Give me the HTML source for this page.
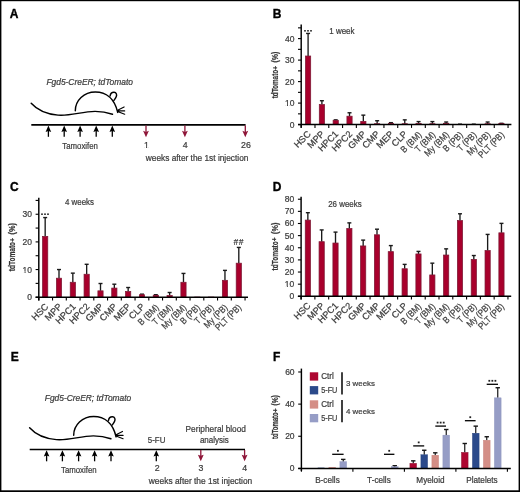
<!DOCTYPE html><html><head><meta charset="utf-8"><style>html,body{margin:0;padding:0;background:#fff;}svg{display:block;will-change:transform;font-family:"Liberation Sans",sans-serif;}text{stroke:#3c3c3c;stroke-width:0.22px;}</style></head><body>
<svg width="520" height="492" viewBox="0 0 520 492" fill="#3c3c3c">
<rect x="0" y="0" width="520" height="492" fill="#fff"/>
<text x="9.85" y="18.20" font-size="12" font-weight="bold" fill="#000" style="stroke:#000;stroke-width:0.35px">A</text>
<text x="46.40" y="84.60" font-size="8.3" font-style="italic" textLength="86.60" lengthAdjust="spacingAndGlyphs" >Fgd5-CreER; tdTomato</text>
<g transform="translate(0.00 0.00)" fill="none" stroke="#000" stroke-width="1.45" stroke-linecap="round">
<path d="M31.2,103.2 C37,109.7 46,114 58,115.1 C70,116.2 82,111.5 95,111.4 C104,111.4 109,113 112.5,114.2"/>
<path d="M75.3,110.8 C75.3,100.5 84,92.0 95.3,92.0 C106.2,92.0 114.6,98.8 117.7,112.4"/>
<path d="M110.1,95.9 C110.5,93.6 112.2,92.2 114.1,92.3 C116.3,92.4 117.1,94.6 116.3,96.6 C115.7,98.2 114.6,99.5 113.9,100.4"/>
<path d="M117.6,110.2 L124.1,106.9 M117.6,110.8 L124.7,110.9 M117.6,111.4 L124.7,114.3" stroke-width="1.1"/>
</g>
<line x1="31.30" y1="124.80" x2="245.60" y2="124.80" stroke="#000" stroke-width="1.7"/>
<line x1="48.40" y1="129.60" x2="48.40" y2="136.80" stroke="#000" stroke-width="1.3"/>
<polygon points="48.40,125.60 45.60,132.00 48.40,131.00 51.20,132.00" fill="#000"/>
<line x1="64.20" y1="129.60" x2="64.20" y2="136.80" stroke="#000" stroke-width="1.3"/>
<polygon points="64.20,125.60 61.40,132.00 64.20,131.00 67.00,132.00" fill="#000"/>
<line x1="80.10" y1="129.60" x2="80.10" y2="136.80" stroke="#000" stroke-width="1.3"/>
<polygon points="80.10,125.60 77.30,132.00 80.10,131.00 82.90,132.00" fill="#000"/>
<line x1="96.20" y1="129.60" x2="96.20" y2="136.80" stroke="#000" stroke-width="1.3"/>
<polygon points="96.20,125.60 93.40,132.00 96.20,131.00 99.00,132.00" fill="#000"/>
<line x1="112.30" y1="129.60" x2="112.30" y2="136.80" stroke="#000" stroke-width="1.3"/>
<polygon points="112.30,125.60 109.50,132.00 112.30,131.00 115.10,132.00" fill="#000"/>
<line x1="146.00" y1="125.50" x2="146.00" y2="133.30" stroke="#8e1538" stroke-width="1.3"/>
<polygon points="146.00,137.30 143.10,130.80 146.00,131.90 148.90,130.80" fill="#8e1538"/>
<line x1="184.90" y1="125.50" x2="184.90" y2="133.30" stroke="#8e1538" stroke-width="1.3"/>
<polygon points="184.90,137.30 182.00,130.80 184.90,131.90 187.80,130.80" fill="#8e1538"/>
<line x1="245.30" y1="125.50" x2="245.30" y2="133.30" stroke="#8e1538" stroke-width="1.3"/>
<polygon points="245.30,137.30 242.40,130.80 245.30,131.90 248.20,130.80" fill="#8e1538"/>
<text x="62.30" y="148.70" font-size="8.7" textLength="35.60" lengthAdjust="spacingAndGlyphs" >Tamoxifen</text>
<text x="146.40" y="147.70" font-size="8.8" text-anchor="middle" >1</text>
<rect x="144.22" y="146.44" width="1.82" height="1.66" fill="#fff"/>
<rect x="147.11" y="146.44" width="1.67" height="1.66" fill="#fff"/>
<text x="185.10" y="147.70" font-size="8.8" text-anchor="middle" >4</text>
<text x="245.90" y="147.70" font-size="8.8" text-anchor="middle" >26</text>
<text x="145.80" y="160.90" font-size="8.3" textLength="102.60" lengthAdjust="spacingAndGlyphs" >weeks after the 1st injection</text>
<text x="272.85" y="18.30" font-size="12" font-weight="bold" fill="#000" style="stroke:#000;stroke-width:0.35px">B</text>
<line x1="301.20" y1="24.50" x2="301.20" y2="127.70" stroke="#000" stroke-width="1.45"/>
<line x1="298.00" y1="124.60" x2="301.20" y2="124.60" stroke="#000" stroke-width="1.1"/>
<text x="294.40" y="127.60" font-size="8.5" text-anchor="end" >0</text>
<line x1="298.00" y1="103.10" x2="301.20" y2="103.10" stroke="#000" stroke-width="1.1"/>
<text x="294.40" y="106.10" font-size="8.5" text-anchor="end" >10</text>
<rect x="285.20" y="104.86" width="1.76" height="1.64" fill="#fff"/>
<rect x="288.00" y="104.86" width="1.61" height="1.64" fill="#fff"/>
<line x1="298.00" y1="81.60" x2="301.20" y2="81.60" stroke="#000" stroke-width="1.1"/>
<text x="294.40" y="84.60" font-size="8.5" text-anchor="end" >20</text>
<line x1="298.00" y1="60.10" x2="301.20" y2="60.10" stroke="#000" stroke-width="1.1"/>
<text x="294.40" y="63.10" font-size="8.5" text-anchor="end" >30</text>
<line x1="298.00" y1="38.60" x2="301.20" y2="38.60" stroke="#000" stroke-width="1.1"/>
<text x="294.40" y="41.60" font-size="8.5" text-anchor="end" >40</text>
<line x1="298.00" y1="113.85" x2="301.20" y2="113.85" stroke="#000" stroke-width="1.1"/>
<line x1="298.00" y1="92.35" x2="301.20" y2="92.35" stroke="#000" stroke-width="1.1"/>
<line x1="298.00" y1="70.85" x2="301.20" y2="70.85" stroke="#000" stroke-width="1.1"/>
<line x1="298.00" y1="49.35" x2="301.20" y2="49.35" stroke="#000" stroke-width="1.1"/>
<line x1="298.00" y1="27.85" x2="301.20" y2="27.85" stroke="#000" stroke-width="1.1"/>
<g transform="translate(278.00 98.35) rotate(-90)" fill="#333" font-weight="bold">
<text x="0" y="0" font-size="9.2" textLength="28.52" lengthAdjust="spacingAndGlyphs">tdTomato</text>
<text x="28.57" y="-0.4" font-size="6.62">+</text>
<text x="35.74" y="0" font-size="9.2" textLength="11.02" lengthAdjust="spacingAndGlyphs">(%)</text>
</g>
<line x1="308.09" y1="33.44" x2="308.09" y2="56.02" stroke="#1a1a1a" stroke-width="1.35"/>
<line x1="306.09" y1="33.44" x2="310.09" y2="33.44" stroke="#1a1a1a" stroke-width="1.4"/>
<rect x="305.49" y="56.02" width="5.20" height="68.58" fill="#a8002c" stroke="#7c1834" stroke-width="0.75"/>
<line x1="321.90" y1="100.73" x2="321.90" y2="104.60" stroke="#1a1a1a" stroke-width="1.35"/>
<line x1="319.90" y1="100.73" x2="323.90" y2="100.73" stroke="#1a1a1a" stroke-width="1.4"/>
<rect x="319.30" y="104.60" width="5.20" height="20.00" fill="#a8002c" stroke="#7c1834" stroke-width="0.75"/>
<line x1="335.71" y1="119.87" x2="335.71" y2="120.30" stroke="#1a1a1a" stroke-width="1.35"/>
<line x1="333.71" y1="119.87" x2="337.71" y2="119.87" stroke="#1a1a1a" stroke-width="1.4"/>
<rect x="333.11" y="120.30" width="5.20" height="4.30" fill="#a8002c" stroke="#7c1834" stroke-width="0.75"/>
<line x1="349.52" y1="112.77" x2="349.52" y2="116.21" stroke="#1a1a1a" stroke-width="1.35"/>
<line x1="347.52" y1="112.77" x2="351.52" y2="112.77" stroke="#1a1a1a" stroke-width="1.4"/>
<rect x="346.92" y="116.21" width="5.20" height="8.39" fill="#a8002c" stroke="#7c1834" stroke-width="0.75"/>
<line x1="363.33" y1="115.14" x2="363.33" y2="121.38" stroke="#1a1a1a" stroke-width="1.35"/>
<line x1="361.33" y1="115.14" x2="365.33" y2="115.14" stroke="#1a1a1a" stroke-width="1.4"/>
<rect x="360.73" y="121.38" width="5.20" height="3.22" fill="#a8002c" stroke="#7c1834" stroke-width="0.75"/>
<line x1="377.14" y1="120.73" x2="377.14" y2="123.74" stroke="#1a1a1a" stroke-width="1.35"/>
<line x1="375.14" y1="120.73" x2="379.14" y2="120.73" stroke="#1a1a1a" stroke-width="1.4"/>
<rect x="374.54" y="123.74" width="5.20" height="0.86" fill="#a8002c" stroke="#7c1834" stroke-width="0.75"/>
<line x1="390.95" y1="122.66" x2="390.95" y2="123.31" stroke="#1a1a1a" stroke-width="1.35"/>
<line x1="388.95" y1="122.66" x2="392.95" y2="122.66" stroke="#1a1a1a" stroke-width="1.4"/>
<rect x="388.35" y="123.31" width="5.20" height="1.29" fill="#a8002c" stroke="#7c1834" stroke-width="0.75"/>
<line x1="404.76" y1="119.87" x2="404.76" y2="123.74" stroke="#1a1a1a" stroke-width="1.35"/>
<line x1="402.76" y1="119.87" x2="406.76" y2="119.87" stroke="#1a1a1a" stroke-width="1.4"/>
<rect x="402.16" y="123.74" width="5.20" height="0.86" fill="#a8002c" stroke="#7c1834" stroke-width="0.75"/>
<line x1="418.57" y1="121.59" x2="418.57" y2="123.52" stroke="#1a1a1a" stroke-width="1.35"/>
<line x1="416.57" y1="121.59" x2="420.57" y2="121.59" stroke="#1a1a1a" stroke-width="1.4"/>
<rect x="415.97" y="123.52" width="5.20" height="1.08" fill="#a8002c" stroke="#7c1834" stroke-width="0.75"/>
<line x1="432.38" y1="121.59" x2="432.38" y2="123.74" stroke="#1a1a1a" stroke-width="1.35"/>
<line x1="430.38" y1="121.59" x2="434.38" y2="121.59" stroke="#1a1a1a" stroke-width="1.4"/>
<rect x="429.78" y="123.74" width="5.20" height="0.86" fill="#a8002c" stroke="#7c1834" stroke-width="0.75"/>
<line x1="446.19" y1="122.02" x2="446.19" y2="123.31" stroke="#1a1a1a" stroke-width="1.35"/>
<line x1="444.19" y1="122.02" x2="448.19" y2="122.02" stroke="#1a1a1a" stroke-width="1.4"/>
<rect x="443.59" y="123.31" width="5.20" height="1.29" fill="#a8002c" stroke="#7c1834" stroke-width="0.75"/>
<line x1="460.00" y1="124.17" x2="460.00" y2="124.38" stroke="#1a1a1a" stroke-width="1.35"/>
<line x1="458.00" y1="124.17" x2="462.00" y2="124.17" stroke="#1a1a1a" stroke-width="1.4"/>
<rect x="457.40" y="124.38" width="5.20" height="0.22" fill="#a8002c" stroke="#7c1834" stroke-width="0.75"/>
<line x1="473.81" y1="124.17" x2="473.81" y2="124.38" stroke="#1a1a1a" stroke-width="1.35"/>
<line x1="471.81" y1="124.17" x2="475.81" y2="124.17" stroke="#1a1a1a" stroke-width="1.4"/>
<rect x="471.21" y="124.38" width="5.20" height="0.22" fill="#a8002c" stroke="#7c1834" stroke-width="0.75"/>
<line x1="487.62" y1="122.02" x2="487.62" y2="123.74" stroke="#1a1a1a" stroke-width="1.35"/>
<line x1="485.62" y1="122.02" x2="489.62" y2="122.02" stroke="#1a1a1a" stroke-width="1.4"/>
<rect x="485.02" y="123.74" width="5.20" height="0.86" fill="#a8002c" stroke="#7c1834" stroke-width="0.75"/>
<line x1="501.43" y1="123.31" x2="501.43" y2="123.52" stroke="#1a1a1a" stroke-width="1.35"/>
<line x1="499.43" y1="123.31" x2="503.43" y2="123.31" stroke="#1a1a1a" stroke-width="1.4"/>
<rect x="498.83" y="123.52" width="5.20" height="1.08" fill="#a8002c" stroke="#7c1834" stroke-width="0.75"/>
<line x1="298.00" y1="124.60" x2="511.40" y2="124.60" stroke="#000" stroke-width="1.5"/>
<line x1="301.20" y1="124.60" x2="301.20" y2="127.90" stroke="#000" stroke-width="1.1"/>
<line x1="314.99" y1="124.60" x2="314.99" y2="127.90" stroke="#000" stroke-width="1.1"/>
<line x1="328.78" y1="124.60" x2="328.78" y2="127.90" stroke="#000" stroke-width="1.1"/>
<line x1="342.57" y1="124.60" x2="342.57" y2="127.90" stroke="#000" stroke-width="1.1"/>
<line x1="356.36" y1="124.60" x2="356.36" y2="127.90" stroke="#000" stroke-width="1.1"/>
<line x1="370.15" y1="124.60" x2="370.15" y2="127.90" stroke="#000" stroke-width="1.1"/>
<line x1="383.94" y1="124.60" x2="383.94" y2="127.90" stroke="#000" stroke-width="1.1"/>
<line x1="397.73" y1="124.60" x2="397.73" y2="127.90" stroke="#000" stroke-width="1.1"/>
<line x1="411.52" y1="124.60" x2="411.52" y2="127.90" stroke="#000" stroke-width="1.1"/>
<line x1="425.31" y1="124.60" x2="425.31" y2="127.90" stroke="#000" stroke-width="1.1"/>
<line x1="439.10" y1="124.60" x2="439.10" y2="127.90" stroke="#000" stroke-width="1.1"/>
<line x1="452.89" y1="124.60" x2="452.89" y2="127.90" stroke="#000" stroke-width="1.1"/>
<line x1="466.68" y1="124.60" x2="466.68" y2="127.90" stroke="#000" stroke-width="1.1"/>
<line x1="480.47" y1="124.60" x2="480.47" y2="127.90" stroke="#000" stroke-width="1.1"/>
<line x1="494.26" y1="124.60" x2="494.26" y2="127.90" stroke="#000" stroke-width="1.1"/>
<line x1="508.05" y1="124.60" x2="508.05" y2="127.90" stroke="#000" stroke-width="1.1"/>
<text x="311.39" y="134.60" font-size="9.2" text-anchor="end" transform="rotate(-45 311.39 134.60)" >HSC</text>
<text x="325.19" y="134.60" font-size="9.2" text-anchor="end" transform="rotate(-45 325.19 134.60)" >MPP</text>
<text x="338.97" y="134.60" font-size="9.2" text-anchor="end" transform="rotate(-45 338.97 134.60)" >HPC1</text>
<text x="352.76" y="134.60" font-size="9.2" text-anchor="end" transform="rotate(-45 352.76 134.60)" >HPC2</text>
<text x="366.56" y="134.60" font-size="9.2" text-anchor="end" transform="rotate(-45 366.56 134.60)" >GMP</text>
<text x="380.34" y="134.60" font-size="9.2" text-anchor="end" transform="rotate(-45 380.34 134.60)" >CMP</text>
<text x="394.13" y="134.60" font-size="9.2" text-anchor="end" transform="rotate(-45 394.13 134.60)" >MEP</text>
<text x="407.93" y="134.60" font-size="9.2" text-anchor="end" transform="rotate(-45 407.93 134.60)" >CLP</text>
<text x="422.11" y="135.40" font-size="9.2" text-anchor="end" textLength="25.18" lengthAdjust="spacingAndGlyphs" transform="rotate(-45 422.11 135.40)" >B (BM)</text>
<text x="435.90" y="135.40" font-size="9.2" text-anchor="end" textLength="24.58" lengthAdjust="spacingAndGlyphs" transform="rotate(-45 435.90 135.40)" >T (BM)</text>
<text x="449.69" y="135.40" font-size="9.2" text-anchor="end" textLength="30.58" lengthAdjust="spacingAndGlyphs" transform="rotate(-45 449.69 135.40)" >My (BM)</text>
<text x="463.48" y="135.40" font-size="9.2" text-anchor="end" textLength="23.84" lengthAdjust="spacingAndGlyphs" transform="rotate(-45 463.48 135.40)" >B (PB)</text>
<text x="477.27" y="135.40" font-size="9.2" text-anchor="end" textLength="23.24" lengthAdjust="spacingAndGlyphs" transform="rotate(-45 477.27 135.40)" >T (PB)</text>
<text x="491.06" y="135.40" font-size="9.2" text-anchor="end" textLength="29.23" lengthAdjust="spacingAndGlyphs" transform="rotate(-45 491.06 135.40)" >My (PB)</text>
<text x="504.85" y="135.40" font-size="9.2" text-anchor="end" textLength="32.54" lengthAdjust="spacingAndGlyphs" transform="rotate(-45 504.85 135.40)" >PLT (PB)</text>
<rect x="304.20" y="30.00" width="1.60" height="1.60" fill="#222"/>
<rect x="307.20" y="30.00" width="1.60" height="1.60" fill="#222"/>
<rect x="310.20" y="30.00" width="1.60" height="1.60" fill="#222"/>
<text x="329.30" y="33.50" font-size="8.3" textLength="25.20" lengthAdjust="spacingAndGlyphs" >1 week</text>
<text x="10.05" y="190.60" font-size="12" font-weight="bold" fill="#000" style="stroke:#000;stroke-width:0.35px">C</text>
<line x1="38.80" y1="197.70" x2="38.80" y2="300.50" stroke="#000" stroke-width="1.45"/>
<line x1="35.60" y1="297.20" x2="38.80" y2="297.20" stroke="#000" stroke-width="1.1"/>
<text x="32.00" y="300.20" font-size="8.5" text-anchor="end" >0</text>
<line x1="35.60" y1="269.55" x2="38.80" y2="269.55" stroke="#000" stroke-width="1.1"/>
<text x="32.00" y="272.55" font-size="8.5" text-anchor="end" >10</text>
<rect x="22.80" y="271.31" width="1.76" height="1.64" fill="#fff"/>
<rect x="25.60" y="271.31" width="1.61" height="1.64" fill="#fff"/>
<line x1="35.60" y1="241.90" x2="38.80" y2="241.90" stroke="#000" stroke-width="1.1"/>
<text x="32.00" y="244.90" font-size="8.5" text-anchor="end" >20</text>
<line x1="35.60" y1="214.25" x2="38.80" y2="214.25" stroke="#000" stroke-width="1.1"/>
<text x="32.00" y="217.25" font-size="8.5" text-anchor="end" >30</text>
<line x1="35.60" y1="283.38" x2="38.80" y2="283.38" stroke="#000" stroke-width="1.1"/>
<line x1="35.60" y1="255.72" x2="38.80" y2="255.72" stroke="#000" stroke-width="1.1"/>
<line x1="35.60" y1="228.07" x2="38.80" y2="228.07" stroke="#000" stroke-width="1.1"/>
<line x1="35.60" y1="200.42" x2="38.80" y2="200.42" stroke="#000" stroke-width="1.1"/>
<g transform="translate(15.30 271.25) rotate(-90)" fill="#333" font-weight="bold">
<text x="0" y="0" font-size="9.2" textLength="29.38" lengthAdjust="spacingAndGlyphs">tdTomato</text>
<text x="29.43" y="-0.4" font-size="6.62">+</text>
<text x="36.82" y="0" font-size="9.2" textLength="11.35" lengthAdjust="spacingAndGlyphs">(%)</text>
</g>
<line x1="45.17" y1="217.57" x2="45.17" y2="236.37" stroke="#1a1a1a" stroke-width="1.35"/>
<line x1="43.17" y1="217.57" x2="47.17" y2="217.57" stroke="#1a1a1a" stroke-width="1.4"/>
<rect x="42.57" y="236.37" width="5.20" height="60.83" fill="#a8002c" stroke="#7c1834" stroke-width="0.75"/>
<line x1="59.00" y1="269.55" x2="59.00" y2="278.20" stroke="#1a1a1a" stroke-width="1.35"/>
<line x1="57.00" y1="269.55" x2="61.00" y2="269.55" stroke="#1a1a1a" stroke-width="1.4"/>
<rect x="56.40" y="278.20" width="5.20" height="19.00" fill="#a8002c" stroke="#7c1834" stroke-width="0.75"/>
<line x1="72.83" y1="273.14" x2="72.83" y2="282.27" stroke="#1a1a1a" stroke-width="1.35"/>
<line x1="70.83" y1="273.14" x2="74.83" y2="273.14" stroke="#1a1a1a" stroke-width="1.4"/>
<rect x="70.23" y="282.27" width="5.20" height="14.93" fill="#a8002c" stroke="#7c1834" stroke-width="0.75"/>
<line x1="86.66" y1="264.30" x2="86.66" y2="274.25" stroke="#1a1a1a" stroke-width="1.35"/>
<line x1="84.66" y1="264.30" x2="88.66" y2="264.30" stroke="#1a1a1a" stroke-width="1.4"/>
<rect x="84.06" y="274.25" width="5.20" height="22.95" fill="#a8002c" stroke="#7c1834" stroke-width="0.75"/>
<line x1="100.50" y1="283.51" x2="100.50" y2="290.84" stroke="#1a1a1a" stroke-width="1.35"/>
<line x1="98.50" y1="283.51" x2="102.50" y2="283.51" stroke="#1a1a1a" stroke-width="1.4"/>
<rect x="97.90" y="290.84" width="5.20" height="6.36" fill="#a8002c" stroke="#7c1834" stroke-width="0.75"/>
<line x1="114.33" y1="284.20" x2="114.33" y2="288.08" stroke="#1a1a1a" stroke-width="1.35"/>
<line x1="112.33" y1="284.20" x2="116.33" y2="284.20" stroke="#1a1a1a" stroke-width="1.4"/>
<rect x="111.73" y="288.08" width="5.20" height="9.12" fill="#a8002c" stroke="#7c1834" stroke-width="0.75"/>
<line x1="128.16" y1="287.52" x2="128.16" y2="291.50" stroke="#1a1a1a" stroke-width="1.35"/>
<line x1="126.16" y1="287.52" x2="130.16" y2="287.52" stroke="#1a1a1a" stroke-width="1.4"/>
<rect x="125.56" y="291.50" width="5.20" height="5.70" fill="#a8002c" stroke="#7c1834" stroke-width="0.75"/>
<line x1="141.99" y1="294.16" x2="141.99" y2="294.71" stroke="#1a1a1a" stroke-width="1.35"/>
<line x1="139.99" y1="294.16" x2="143.99" y2="294.16" stroke="#1a1a1a" stroke-width="1.4"/>
<rect x="139.39" y="294.71" width="5.20" height="2.49" fill="#a8002c" stroke="#7c1834" stroke-width="0.75"/>
<line x1="155.81" y1="294.71" x2="155.81" y2="295.26" stroke="#1a1a1a" stroke-width="1.35"/>
<line x1="153.81" y1="294.71" x2="157.81" y2="294.71" stroke="#1a1a1a" stroke-width="1.4"/>
<rect x="153.22" y="295.26" width="5.20" height="1.94" fill="#a8002c" stroke="#7c1834" stroke-width="0.75"/>
<line x1="169.64" y1="292.50" x2="169.64" y2="295.54" stroke="#1a1a1a" stroke-width="1.35"/>
<line x1="167.64" y1="292.50" x2="171.64" y2="292.50" stroke="#1a1a1a" stroke-width="1.4"/>
<rect x="167.04" y="295.54" width="5.20" height="1.66" fill="#a8002c" stroke="#7c1834" stroke-width="0.75"/>
<line x1="183.48" y1="273.42" x2="183.48" y2="282.27" stroke="#1a1a1a" stroke-width="1.35"/>
<line x1="181.48" y1="273.42" x2="185.48" y2="273.42" stroke="#1a1a1a" stroke-width="1.4"/>
<rect x="180.88" y="282.27" width="5.20" height="14.93" fill="#a8002c" stroke="#7c1834" stroke-width="0.75"/>
<rect x="194.71" y="297.06" width="5.20" height="0.14" fill="#a8002c" stroke="#7c1834" stroke-width="0.75"/>
<rect x="208.53" y="297.06" width="5.20" height="0.14" fill="#a8002c" stroke="#7c1834" stroke-width="0.75"/>
<line x1="224.96" y1="270.38" x2="224.96" y2="280.33" stroke="#1a1a1a" stroke-width="1.35"/>
<line x1="222.96" y1="270.38" x2="226.96" y2="270.38" stroke="#1a1a1a" stroke-width="1.4"/>
<rect x="222.36" y="280.33" width="5.20" height="16.87" fill="#a8002c" stroke="#7c1834" stroke-width="0.75"/>
<line x1="238.80" y1="247.43" x2="238.80" y2="263.19" stroke="#1a1a1a" stroke-width="1.35"/>
<line x1="236.80" y1="247.43" x2="240.80" y2="247.43" stroke="#1a1a1a" stroke-width="1.4"/>
<rect x="236.20" y="263.19" width="5.20" height="34.01" fill="#a8002c" stroke="#7c1834" stroke-width="0.75"/>
<line x1="35.60" y1="297.20" x2="248.00" y2="297.20" stroke="#000" stroke-width="1.5"/>
<line x1="38.80" y1="297.20" x2="38.80" y2="300.50" stroke="#000" stroke-width="1.1"/>
<line x1="52.55" y1="297.20" x2="52.55" y2="300.50" stroke="#000" stroke-width="1.1"/>
<line x1="66.30" y1="297.20" x2="66.30" y2="300.50" stroke="#000" stroke-width="1.1"/>
<line x1="80.05" y1="297.20" x2="80.05" y2="300.50" stroke="#000" stroke-width="1.1"/>
<line x1="93.80" y1="297.20" x2="93.80" y2="300.50" stroke="#000" stroke-width="1.1"/>
<line x1="107.55" y1="297.20" x2="107.55" y2="300.50" stroke="#000" stroke-width="1.1"/>
<line x1="121.30" y1="297.20" x2="121.30" y2="300.50" stroke="#000" stroke-width="1.1"/>
<line x1="135.05" y1="297.20" x2="135.05" y2="300.50" stroke="#000" stroke-width="1.1"/>
<line x1="148.80" y1="297.20" x2="148.80" y2="300.50" stroke="#000" stroke-width="1.1"/>
<line x1="162.55" y1="297.20" x2="162.55" y2="300.50" stroke="#000" stroke-width="1.1"/>
<line x1="176.30" y1="297.20" x2="176.30" y2="300.50" stroke="#000" stroke-width="1.1"/>
<line x1="190.05" y1="297.20" x2="190.05" y2="300.50" stroke="#000" stroke-width="1.1"/>
<line x1="203.80" y1="297.20" x2="203.80" y2="300.50" stroke="#000" stroke-width="1.1"/>
<line x1="217.55" y1="297.20" x2="217.55" y2="300.50" stroke="#000" stroke-width="1.1"/>
<line x1="231.30" y1="297.20" x2="231.30" y2="300.50" stroke="#000" stroke-width="1.1"/>
<line x1="245.05" y1="297.20" x2="245.05" y2="300.50" stroke="#000" stroke-width="1.1"/>
<text x="48.97" y="307.20" font-size="9.2" text-anchor="end" transform="rotate(-45 48.97 307.20)" >HSC</text>
<text x="62.72" y="307.20" font-size="9.2" text-anchor="end" transform="rotate(-45 62.72 307.20)" >MPP</text>
<text x="76.47" y="307.20" font-size="9.2" text-anchor="end" transform="rotate(-45 76.47 307.20)" >HPC1</text>
<text x="90.22" y="307.20" font-size="9.2" text-anchor="end" transform="rotate(-45 90.22 307.20)" >HPC2</text>
<text x="103.97" y="307.20" font-size="9.2" text-anchor="end" transform="rotate(-45 103.97 307.20)" >GMP</text>
<text x="117.72" y="307.20" font-size="9.2" text-anchor="end" transform="rotate(-45 117.72 307.20)" >CMP</text>
<text x="131.48" y="307.20" font-size="9.2" text-anchor="end" transform="rotate(-45 131.48 307.20)" >MEP</text>
<text x="145.23" y="307.20" font-size="9.2" text-anchor="end" transform="rotate(-45 145.23 307.20)" >CLP</text>
<text x="159.38" y="308.00" font-size="9.2" text-anchor="end" textLength="25.18" lengthAdjust="spacingAndGlyphs" transform="rotate(-45 159.38 308.00)" >B (BM)</text>
<text x="173.13" y="308.00" font-size="9.2" text-anchor="end" textLength="24.58" lengthAdjust="spacingAndGlyphs" transform="rotate(-45 173.13 308.00)" >T (BM)</text>
<text x="186.88" y="308.00" font-size="9.2" text-anchor="end" textLength="30.58" lengthAdjust="spacingAndGlyphs" transform="rotate(-45 186.88 308.00)" >My (BM)</text>
<text x="200.63" y="308.00" font-size="9.2" text-anchor="end" textLength="23.84" lengthAdjust="spacingAndGlyphs" transform="rotate(-45 200.63 308.00)" >B (PB)</text>
<text x="214.38" y="308.00" font-size="9.2" text-anchor="end" textLength="23.24" lengthAdjust="spacingAndGlyphs" transform="rotate(-45 214.38 308.00)" >T (PB)</text>
<text x="228.13" y="308.00" font-size="9.2" text-anchor="end" textLength="29.23" lengthAdjust="spacingAndGlyphs" transform="rotate(-45 228.13 308.00)" >My (PB)</text>
<text x="241.88" y="308.00" font-size="9.2" text-anchor="end" textLength="32.54" lengthAdjust="spacingAndGlyphs" transform="rotate(-45 241.88 308.00)" >PLT (PB)</text>
<rect x="41.20" y="213.40" width="1.60" height="1.60" fill="#222"/>
<rect x="44.20" y="213.40" width="1.60" height="1.60" fill="#222"/>
<rect x="47.20" y="213.40" width="1.60" height="1.60" fill="#222"/>
<text x="233.6" y="245.2" font-size="8.2" font-style="italic" textLength="9.6" lengthAdjust="spacing">##</text>
<text x="65.00" y="204.80" font-size="8.4" textLength="29.00" lengthAdjust="spacingAndGlyphs" >4 weeks</text>
<text x="272.85" y="190.60" font-size="12" font-weight="bold" fill="#000" style="stroke:#000;stroke-width:0.35px">D</text>
<line x1="301.10" y1="196.70" x2="301.10" y2="299.40" stroke="#000" stroke-width="1.45"/>
<line x1="297.90" y1="296.30" x2="301.10" y2="296.30" stroke="#000" stroke-width="1.1"/>
<text x="294.30" y="299.30" font-size="8.5" text-anchor="end" >0</text>
<line x1="297.90" y1="284.17" x2="301.10" y2="284.17" stroke="#000" stroke-width="1.1"/>
<text x="294.30" y="287.17" font-size="8.5" text-anchor="end" >10</text>
<rect x="285.10" y="285.93" width="1.76" height="1.64" fill="#fff"/>
<rect x="287.90" y="285.93" width="1.61" height="1.64" fill="#fff"/>
<line x1="297.90" y1="272.03" x2="301.10" y2="272.03" stroke="#000" stroke-width="1.1"/>
<text x="294.30" y="275.03" font-size="8.5" text-anchor="end" >20</text>
<line x1="297.90" y1="259.89" x2="301.10" y2="259.89" stroke="#000" stroke-width="1.1"/>
<text x="294.30" y="262.89" font-size="8.5" text-anchor="end" >30</text>
<line x1="297.90" y1="247.76" x2="301.10" y2="247.76" stroke="#000" stroke-width="1.1"/>
<text x="294.30" y="250.76" font-size="8.5" text-anchor="end" >40</text>
<line x1="297.90" y1="235.62" x2="301.10" y2="235.62" stroke="#000" stroke-width="1.1"/>
<text x="294.30" y="238.62" font-size="8.5" text-anchor="end" >50</text>
<line x1="297.90" y1="223.49" x2="301.10" y2="223.49" stroke="#000" stroke-width="1.1"/>
<text x="294.30" y="226.49" font-size="8.5" text-anchor="end" >60</text>
<line x1="297.90" y1="211.36" x2="301.10" y2="211.36" stroke="#000" stroke-width="1.1"/>
<text x="294.30" y="214.36" font-size="8.5" text-anchor="end" >70</text>
<line x1="297.90" y1="199.22" x2="301.10" y2="199.22" stroke="#000" stroke-width="1.1"/>
<text x="294.30" y="202.22" font-size="8.5" text-anchor="end" >80</text>
<g transform="translate(277.60 270.50) rotate(-90)" fill="#333" font-weight="bold">
<text x="0" y="0" font-size="9.2" textLength="29.20" lengthAdjust="spacingAndGlyphs">tdTomato</text>
<text x="29.25" y="-0.4" font-size="6.62">+</text>
<text x="36.59" y="0" font-size="9.2" textLength="11.28" lengthAdjust="spacingAndGlyphs">(%)</text>
</g>
<line x1="307.85" y1="212.69" x2="307.85" y2="220.09" stroke="#1a1a1a" stroke-width="1.35"/>
<line x1="305.85" y1="212.69" x2="309.85" y2="212.69" stroke="#1a1a1a" stroke-width="1.4"/>
<rect x="305.25" y="220.09" width="5.20" height="76.21" fill="#a8002c" stroke="#7c1834" stroke-width="0.75"/>
<line x1="321.68" y1="229.92" x2="321.68" y2="241.69" stroke="#1a1a1a" stroke-width="1.35"/>
<line x1="319.68" y1="229.92" x2="323.68" y2="229.92" stroke="#1a1a1a" stroke-width="1.4"/>
<rect x="319.07" y="241.69" width="5.20" height="54.61" fill="#a8002c" stroke="#7c1834" stroke-width="0.75"/>
<line x1="335.51" y1="232.11" x2="335.51" y2="243.03" stroke="#1a1a1a" stroke-width="1.35"/>
<line x1="333.51" y1="232.11" x2="337.51" y2="232.11" stroke="#1a1a1a" stroke-width="1.4"/>
<rect x="332.91" y="243.03" width="5.20" height="53.27" fill="#a8002c" stroke="#7c1834" stroke-width="0.75"/>
<line x1="349.34" y1="222.88" x2="349.34" y2="228.59" stroke="#1a1a1a" stroke-width="1.35"/>
<line x1="347.34" y1="222.88" x2="351.34" y2="222.88" stroke="#1a1a1a" stroke-width="1.4"/>
<rect x="346.74" y="228.59" width="5.20" height="67.71" fill="#a8002c" stroke="#7c1834" stroke-width="0.75"/>
<line x1="363.17" y1="240.11" x2="363.17" y2="245.94" stroke="#1a1a1a" stroke-width="1.35"/>
<line x1="361.17" y1="240.11" x2="365.17" y2="240.11" stroke="#1a1a1a" stroke-width="1.4"/>
<rect x="360.56" y="245.94" width="5.20" height="50.36" fill="#a8002c" stroke="#7c1834" stroke-width="0.75"/>
<line x1="377.00" y1="229.19" x2="377.00" y2="234.78" stroke="#1a1a1a" stroke-width="1.35"/>
<line x1="375.00" y1="229.19" x2="379.00" y2="229.19" stroke="#1a1a1a" stroke-width="1.4"/>
<rect x="374.39" y="234.78" width="5.20" height="61.52" fill="#a8002c" stroke="#7c1834" stroke-width="0.75"/>
<line x1="390.83" y1="245.58" x2="390.83" y2="251.64" stroke="#1a1a1a" stroke-width="1.35"/>
<line x1="388.83" y1="245.58" x2="392.83" y2="245.58" stroke="#1a1a1a" stroke-width="1.4"/>
<rect x="388.23" y="251.64" width="5.20" height="44.66" fill="#a8002c" stroke="#7c1834" stroke-width="0.75"/>
<line x1="404.66" y1="264.38" x2="404.66" y2="268.75" stroke="#1a1a1a" stroke-width="1.35"/>
<line x1="402.66" y1="264.38" x2="406.66" y2="264.38" stroke="#1a1a1a" stroke-width="1.4"/>
<rect x="402.06" y="268.75" width="5.20" height="27.55" fill="#a8002c" stroke="#7c1834" stroke-width="0.75"/>
<line x1="418.49" y1="251.40" x2="418.49" y2="253.95" stroke="#1a1a1a" stroke-width="1.35"/>
<line x1="416.49" y1="251.40" x2="420.49" y2="251.40" stroke="#1a1a1a" stroke-width="1.4"/>
<rect x="415.88" y="253.95" width="5.20" height="42.35" fill="#a8002c" stroke="#7c1834" stroke-width="0.75"/>
<line x1="432.32" y1="263.17" x2="432.32" y2="274.94" stroke="#1a1a1a" stroke-width="1.35"/>
<line x1="430.32" y1="263.17" x2="434.32" y2="263.17" stroke="#1a1a1a" stroke-width="1.4"/>
<rect x="429.72" y="274.94" width="5.20" height="21.36" fill="#a8002c" stroke="#7c1834" stroke-width="0.75"/>
<line x1="446.15" y1="248.85" x2="446.15" y2="255.04" stroke="#1a1a1a" stroke-width="1.35"/>
<line x1="444.15" y1="248.85" x2="448.15" y2="248.85" stroke="#1a1a1a" stroke-width="1.4"/>
<rect x="443.55" y="255.04" width="5.20" height="41.26" fill="#a8002c" stroke="#7c1834" stroke-width="0.75"/>
<line x1="459.98" y1="213.78" x2="459.98" y2="220.58" stroke="#1a1a1a" stroke-width="1.35"/>
<line x1="457.98" y1="213.78" x2="461.98" y2="213.78" stroke="#1a1a1a" stroke-width="1.4"/>
<rect x="457.38" y="220.58" width="5.20" height="75.72" fill="#a8002c" stroke="#7c1834" stroke-width="0.75"/>
<line x1="473.81" y1="255.53" x2="473.81" y2="259.41" stroke="#1a1a1a" stroke-width="1.35"/>
<line x1="471.81" y1="255.53" x2="475.81" y2="255.53" stroke="#1a1a1a" stroke-width="1.4"/>
<rect x="471.21" y="259.41" width="5.20" height="36.89" fill="#a8002c" stroke="#7c1834" stroke-width="0.75"/>
<line x1="487.63" y1="234.41" x2="487.63" y2="250.55" stroke="#1a1a1a" stroke-width="1.35"/>
<line x1="485.63" y1="234.41" x2="489.63" y2="234.41" stroke="#1a1a1a" stroke-width="1.4"/>
<rect x="485.03" y="250.55" width="5.20" height="45.75" fill="#a8002c" stroke="#7c1834" stroke-width="0.75"/>
<line x1="501.47" y1="223.37" x2="501.47" y2="232.83" stroke="#1a1a1a" stroke-width="1.35"/>
<line x1="499.47" y1="223.37" x2="503.47" y2="223.37" stroke="#1a1a1a" stroke-width="1.4"/>
<rect x="498.87" y="232.83" width="5.20" height="63.47" fill="#a8002c" stroke="#7c1834" stroke-width="0.75"/>
<line x1="297.90" y1="296.30" x2="511.20" y2="296.30" stroke="#000" stroke-width="1.5"/>
<line x1="301.10" y1="296.30" x2="301.10" y2="299.60" stroke="#000" stroke-width="1.1"/>
<line x1="314.89" y1="296.30" x2="314.89" y2="299.60" stroke="#000" stroke-width="1.1"/>
<line x1="328.68" y1="296.30" x2="328.68" y2="299.60" stroke="#000" stroke-width="1.1"/>
<line x1="342.47" y1="296.30" x2="342.47" y2="299.60" stroke="#000" stroke-width="1.1"/>
<line x1="356.26" y1="296.30" x2="356.26" y2="299.60" stroke="#000" stroke-width="1.1"/>
<line x1="370.05" y1="296.30" x2="370.05" y2="299.60" stroke="#000" stroke-width="1.1"/>
<line x1="383.84" y1="296.30" x2="383.84" y2="299.60" stroke="#000" stroke-width="1.1"/>
<line x1="397.63" y1="296.30" x2="397.63" y2="299.60" stroke="#000" stroke-width="1.1"/>
<line x1="411.42" y1="296.30" x2="411.42" y2="299.60" stroke="#000" stroke-width="1.1"/>
<line x1="425.21" y1="296.30" x2="425.21" y2="299.60" stroke="#000" stroke-width="1.1"/>
<line x1="439.00" y1="296.30" x2="439.00" y2="299.60" stroke="#000" stroke-width="1.1"/>
<line x1="452.79" y1="296.30" x2="452.79" y2="299.60" stroke="#000" stroke-width="1.1"/>
<line x1="466.58" y1="296.30" x2="466.58" y2="299.60" stroke="#000" stroke-width="1.1"/>
<line x1="480.37" y1="296.30" x2="480.37" y2="299.60" stroke="#000" stroke-width="1.1"/>
<line x1="494.16" y1="296.30" x2="494.16" y2="299.60" stroke="#000" stroke-width="1.1"/>
<line x1="507.95" y1="296.30" x2="507.95" y2="299.60" stroke="#000" stroke-width="1.1"/>
<text x="311.30" y="306.30" font-size="9.2" text-anchor="end" transform="rotate(-45 311.30 306.30)" >HSC</text>
<text x="325.09" y="306.30" font-size="9.2" text-anchor="end" transform="rotate(-45 325.09 306.30)" >MPP</text>
<text x="338.88" y="306.30" font-size="9.2" text-anchor="end" transform="rotate(-45 338.88 306.30)" >HPC1</text>
<text x="352.67" y="306.30" font-size="9.2" text-anchor="end" transform="rotate(-45 352.67 306.30)" >HPC2</text>
<text x="366.46" y="306.30" font-size="9.2" text-anchor="end" transform="rotate(-45 366.46 306.30)" >GMP</text>
<text x="380.25" y="306.30" font-size="9.2" text-anchor="end" transform="rotate(-45 380.25 306.30)" >CMP</text>
<text x="394.04" y="306.30" font-size="9.2" text-anchor="end" transform="rotate(-45 394.04 306.30)" >MEP</text>
<text x="407.83" y="306.30" font-size="9.2" text-anchor="end" transform="rotate(-45 407.83 306.30)" >CLP</text>
<text x="422.01" y="307.10" font-size="9.2" text-anchor="end" textLength="25.18" lengthAdjust="spacingAndGlyphs" transform="rotate(-45 422.01 307.10)" >B (BM)</text>
<text x="435.81" y="307.10" font-size="9.2" text-anchor="end" textLength="24.58" lengthAdjust="spacingAndGlyphs" transform="rotate(-45 435.81 307.10)" >T (BM)</text>
<text x="449.59" y="307.10" font-size="9.2" text-anchor="end" textLength="30.58" lengthAdjust="spacingAndGlyphs" transform="rotate(-45 449.59 307.10)" >My (BM)</text>
<text x="463.38" y="307.10" font-size="9.2" text-anchor="end" textLength="23.84" lengthAdjust="spacingAndGlyphs" transform="rotate(-45 463.38 307.10)" >B (PB)</text>
<text x="477.18" y="307.10" font-size="9.2" text-anchor="end" textLength="23.24" lengthAdjust="spacingAndGlyphs" transform="rotate(-45 477.18 307.10)" >T (PB)</text>
<text x="490.96" y="307.10" font-size="9.2" text-anchor="end" textLength="29.23" lengthAdjust="spacingAndGlyphs" transform="rotate(-45 490.96 307.10)" >My (PB)</text>
<text x="504.75" y="307.10" font-size="9.2" text-anchor="end" textLength="32.54" lengthAdjust="spacingAndGlyphs" transform="rotate(-45 504.75 307.10)" >PLT (PB)</text>
<text x="328.20" y="207.00" font-size="8.4" textLength="33.40" lengthAdjust="spacingAndGlyphs" >26 weeks</text>
<text x="10.65" y="360.70" font-size="12" font-weight="bold" fill="#000" style="stroke:#000;stroke-width:0.35px">E</text>
<text x="44.80" y="401.20" font-size="8.3" font-style="italic" textLength="86.40" lengthAdjust="spacingAndGlyphs" >Fgd5-CreER; tdTomato</text>
<g transform="translate(-1.60 324.50)" fill="none" stroke="#000" stroke-width="1.45" stroke-linecap="round">
<path d="M31.2,103.2 C37,109.7 46,114 58,115.1 C70,116.2 82,111.5 95,111.4 C104,111.4 109,113 112.5,114.2"/>
<path d="M75.3,110.8 C75.3,100.5 84,92.0 95.3,92.0 C106.2,92.0 114.6,98.8 117.7,112.4"/>
<path d="M110.1,95.9 C110.5,93.6 112.2,92.2 114.1,92.3 C116.3,92.4 117.1,94.6 116.3,96.6 C115.7,98.2 114.6,99.5 113.9,100.4"/>
<path d="M117.6,110.2 L124.1,106.9 M117.6,110.8 L124.7,110.9 M117.6,111.4 L124.7,114.3" stroke-width="1.1"/>
</g>
<line x1="29.70" y1="449.50" x2="245.00" y2="449.50" stroke="#000" stroke-width="1.7"/>
<line x1="46.60" y1="454.20" x2="46.60" y2="461.30" stroke="#000" stroke-width="1.3"/>
<polygon points="46.60,450.20 43.80,456.60 46.60,455.60 49.40,456.60" fill="#000"/>
<line x1="62.40" y1="454.20" x2="62.40" y2="461.30" stroke="#000" stroke-width="1.3"/>
<polygon points="62.40,450.20 59.60,456.60 62.40,455.60 65.20,456.60" fill="#000"/>
<line x1="78.60" y1="454.20" x2="78.60" y2="461.30" stroke="#000" stroke-width="1.3"/>
<polygon points="78.60,450.20 75.80,456.60 78.60,455.60 81.40,456.60" fill="#000"/>
<line x1="94.60" y1="454.20" x2="94.60" y2="461.30" stroke="#000" stroke-width="1.3"/>
<polygon points="94.60,450.20 91.80,456.60 94.60,455.60 97.40,456.60" fill="#000"/>
<line x1="111.00" y1="454.20" x2="111.00" y2="461.30" stroke="#000" stroke-width="1.3"/>
<polygon points="111.00,450.20 108.20,456.60 111.00,455.60 113.80,456.60" fill="#000"/>
<line x1="156.30" y1="454.20" x2="156.30" y2="461.30" stroke="#000" stroke-width="1.3"/>
<polygon points="156.30,450.20 153.50,456.60 156.30,455.60 159.10,456.60" fill="#000"/>
<line x1="200.80" y1="450.00" x2="200.80" y2="457.20" stroke="#8e1538" stroke-width="1.3"/>
<polygon points="200.80,461.20 197.90,454.70 200.80,455.80 203.70,454.70" fill="#8e1538"/>
<line x1="244.60" y1="450.00" x2="244.60" y2="457.20" stroke="#8e1538" stroke-width="1.3"/>
<polygon points="244.60,461.20 241.70,454.70 244.60,455.80 247.50,454.70" fill="#8e1538"/>
<text x="61.00" y="473.00" font-size="8.7" textLength="35.60" lengthAdjust="spacingAndGlyphs" >Tamoxifen</text>
<text x="147.80" y="443.20" font-size="8.6" textLength="17.60" lengthAdjust="spacingAndGlyphs" >5-FU</text>
<text x="185.60" y="432.30" font-size="8.3" textLength="60.30" lengthAdjust="spacingAndGlyphs" >Peripheral blood</text>
<text x="199.90" y="442.80" font-size="8.3" textLength="29.00" lengthAdjust="spacingAndGlyphs" >analysis</text>
<text x="157.10" y="470.90" font-size="8.8" text-anchor="middle" >2</text>
<text x="200.90" y="470.90" font-size="8.8" text-anchor="middle" >3</text>
<text x="244.70" y="470.90" font-size="8.8" text-anchor="middle" >4</text>
<text x="148.80" y="483.50" font-size="8.3" textLength="103.50" lengthAdjust="spacingAndGlyphs" >weeks after the 1st injection</text>
<text x="273.05" y="360.90" font-size="12" font-weight="bold" fill="#000" style="stroke:#000;stroke-width:0.35px">F</text>
<line x1="301.40" y1="368.60" x2="301.40" y2="471.00" stroke="#000" stroke-width="1.45"/>
<line x1="298.20" y1="468.40" x2="301.40" y2="468.40" stroke="#000" stroke-width="1.1"/>
<text x="294.60" y="471.40" font-size="8.5" text-anchor="end" >0</text>
<line x1="298.20" y1="436.26" x2="301.40" y2="436.26" stroke="#000" stroke-width="1.1"/>
<text x="294.60" y="439.26" font-size="8.5" text-anchor="end" >20</text>
<line x1="298.20" y1="404.12" x2="301.40" y2="404.12" stroke="#000" stroke-width="1.1"/>
<text x="294.60" y="407.12" font-size="8.5" text-anchor="end" >40</text>
<line x1="298.20" y1="371.98" x2="301.40" y2="371.98" stroke="#000" stroke-width="1.1"/>
<text x="294.60" y="374.98" font-size="8.5" text-anchor="end" >60</text>
<g transform="translate(278.00 439.00) rotate(-90)" fill="#333" font-weight="bold">
<text x="0" y="0" font-size="9.2" textLength="26.73" lengthAdjust="spacingAndGlyphs">tdTomato</text>
<text x="26.78" y="-0.4" font-size="6.62">+</text>
<text x="33.50" y="0" font-size="9.2" textLength="10.33" lengthAdjust="spacingAndGlyphs">(%)</text>
</g>
<rect x="306.90" y="468.24" width="6.70" height="0.16" fill="#ad0631" stroke="#82142f" stroke-width="0.4"/>
<rect x="317.90" y="467.92" width="6.70" height="0.48" fill="#2b4a8b" stroke="#223d75" stroke-width="0.4"/>
<rect x="328.90" y="467.28" width="6.70" height="1.12" fill="#d48e86" stroke="#c27c74" stroke-width="0.4"/>
<line x1="343.25" y1="459.40" x2="343.25" y2="461.65" stroke="#151515" stroke-width="1.2"/>
<line x1="341.05" y1="459.40" x2="345.45" y2="459.40" stroke="#151515" stroke-width="1.4"/>
<rect x="339.90" y="461.65" width="6.70" height="6.75" fill="#969dc6" stroke="#858cb8" stroke-width="0.4"/>
<rect x="358.40" y="468.32" width="6.70" height="0.08" fill="#ad0631" stroke="#82142f" stroke-width="0.4"/>
<rect x="369.40" y="468.32" width="6.70" height="0.08" fill="#2b4a8b" stroke="#223d75" stroke-width="0.4"/>
<rect x="380.40" y="468.24" width="6.70" height="0.16" fill="#d48e86" stroke="#c27c74" stroke-width="0.4"/>
<line x1="394.75" y1="465.67" x2="394.75" y2="466.79" stroke="#151515" stroke-width="1.2"/>
<line x1="392.55" y1="465.67" x2="396.95" y2="465.67" stroke="#151515" stroke-width="1.4"/>
<rect x="391.40" y="466.79" width="6.70" height="1.61" fill="#969dc6" stroke="#858cb8" stroke-width="0.4"/>
<line x1="413.25" y1="460.85" x2="413.25" y2="463.26" stroke="#151515" stroke-width="1.2"/>
<line x1="411.05" y1="460.85" x2="415.45" y2="460.85" stroke="#151515" stroke-width="1.4"/>
<rect x="409.90" y="463.26" width="6.70" height="5.14" fill="#ad0631" stroke="#82142f" stroke-width="0.4"/>
<line x1="424.25" y1="450.24" x2="424.25" y2="454.74" stroke="#151515" stroke-width="1.2"/>
<line x1="422.05" y1="450.24" x2="426.45" y2="450.24" stroke="#151515" stroke-width="1.4"/>
<rect x="420.90" y="454.74" width="6.70" height="13.66" fill="#2b4a8b" stroke="#223d75" stroke-width="0.4"/>
<line x1="435.25" y1="452.81" x2="435.25" y2="455.22" stroke="#151515" stroke-width="1.2"/>
<line x1="433.05" y1="452.81" x2="437.45" y2="452.81" stroke="#151515" stroke-width="1.4"/>
<rect x="431.90" y="455.22" width="6.70" height="13.18" fill="#d48e86" stroke="#c27c74" stroke-width="0.4"/>
<line x1="446.25" y1="429.51" x2="446.25" y2="435.14" stroke="#151515" stroke-width="1.2"/>
<line x1="444.05" y1="429.51" x2="448.45" y2="429.51" stroke="#151515" stroke-width="1.4"/>
<rect x="442.90" y="435.14" width="6.70" height="33.26" fill="#969dc6" stroke="#858cb8" stroke-width="0.4"/>
<line x1="464.75" y1="443.49" x2="464.75" y2="452.33" stroke="#151515" stroke-width="1.2"/>
<line x1="462.55" y1="443.49" x2="466.95" y2="443.49" stroke="#151515" stroke-width="1.4"/>
<rect x="461.40" y="452.33" width="6.70" height="16.07" fill="#ad0631" stroke="#82142f" stroke-width="0.4"/>
<line x1="475.75" y1="426.14" x2="475.75" y2="433.21" stroke="#151515" stroke-width="1.2"/>
<line x1="473.55" y1="426.14" x2="477.95" y2="426.14" stroke="#151515" stroke-width="1.4"/>
<rect x="472.40" y="433.21" width="6.70" height="35.19" fill="#2b4a8b" stroke="#223d75" stroke-width="0.4"/>
<line x1="486.75" y1="436.74" x2="486.75" y2="440.28" stroke="#151515" stroke-width="1.2"/>
<line x1="484.55" y1="436.74" x2="488.95" y2="436.74" stroke="#151515" stroke-width="1.4"/>
<rect x="483.40" y="440.28" width="6.70" height="28.12" fill="#d48e86" stroke="#c27c74" stroke-width="0.4"/>
<line x1="497.75" y1="387.73" x2="497.75" y2="397.85" stroke="#151515" stroke-width="1.2"/>
<line x1="495.55" y1="387.73" x2="499.95" y2="387.73" stroke="#151515" stroke-width="1.4"/>
<rect x="494.40" y="397.85" width="6.70" height="70.55" fill="#969dc6" stroke="#858cb8" stroke-width="0.4"/>
<line x1="298.20" y1="468.40" x2="510.80" y2="468.40" stroke="#000" stroke-width="1.5"/>
<line x1="301.40" y1="468.40" x2="301.40" y2="471.70" stroke="#000" stroke-width="1.1"/>
<line x1="352.90" y1="468.40" x2="352.90" y2="471.70" stroke="#000" stroke-width="1.1"/>
<line x1="404.40" y1="468.40" x2="404.40" y2="471.70" stroke="#000" stroke-width="1.1"/>
<line x1="455.90" y1="468.40" x2="455.90" y2="471.70" stroke="#000" stroke-width="1.1"/>
<line x1="507.40" y1="468.40" x2="507.40" y2="471.70" stroke="#000" stroke-width="1.1"/>
<text x="327.45" y="482.60" font-size="8.2" text-anchor="middle" >B-cells</text>
<text x="378.95" y="482.60" font-size="8.2" text-anchor="middle" >T-cells</text>
<text x="430.45" y="482.60" font-size="8.2" text-anchor="middle" >Myeloid</text>
<text x="481.95" y="482.60" font-size="8.2" text-anchor="middle" >Platelets</text>
<line x1="332.20" y1="454.30" x2="343.60" y2="454.30" stroke="#000" stroke-width="1.3"/>
<rect x="337.00" y="449.90" width="1.80" height="1.80" fill="#222"/>
<line x1="384.00" y1="454.30" x2="394.40" y2="454.30" stroke="#000" stroke-width="1.3"/>
<rect x="388.30" y="449.90" width="1.80" height="1.80" fill="#222"/>
<line x1="413.20" y1="445.90" x2="424.20" y2="445.90" stroke="#000" stroke-width="1.3"/>
<rect x="417.80" y="441.50" width="1.80" height="1.80" fill="#222"/>
<line x1="435.30" y1="426.10" x2="446.00" y2="426.10" stroke="#000" stroke-width="1.3"/>
<rect x="436.70" y="421.70" width="1.80" height="1.80" fill="#222"/>
<rect x="439.75" y="421.70" width="1.80" height="1.80" fill="#222"/>
<rect x="442.80" y="421.70" width="1.80" height="1.80" fill="#222"/>
<line x1="464.90" y1="420.70" x2="475.60" y2="420.70" stroke="#000" stroke-width="1.3"/>
<rect x="469.35" y="416.30" width="1.80" height="1.80" fill="#222"/>
<line x1="486.70" y1="384.30" x2="498.00" y2="384.30" stroke="#000" stroke-width="1.3"/>
<rect x="488.40" y="379.90" width="1.80" height="1.80" fill="#222"/>
<rect x="491.45" y="379.90" width="1.80" height="1.80" fill="#222"/>
<rect x="494.50" y="379.90" width="1.80" height="1.80" fill="#222"/>
<rect x="309.80" y="372.30" width="8.40" height="8.30" fill="#ad0631"/>
<text x="321.20" y="379.20" font-size="8.4" textLength="12.60" lengthAdjust="spacingAndGlyphs" >Ctrl</text>
<rect x="309.80" y="386.10" width="8.40" height="8.30" fill="#2b4a8b"/>
<text x="321.20" y="393.00" font-size="8.4" textLength="16.20" lengthAdjust="spacingAndGlyphs" >5-FU</text>
<rect x="309.80" y="400.30" width="8.40" height="8.30" fill="#d48e86"/>
<text x="321.20" y="407.20" font-size="8.4" textLength="12.60" lengthAdjust="spacingAndGlyphs" >Ctrl</text>
<rect x="309.80" y="414.00" width="8.40" height="8.30" fill="#969dc6"/>
<text x="321.20" y="420.90" font-size="8.4" textLength="16.20" lengthAdjust="spacingAndGlyphs" >5-FU</text>
<line x1="342.00" y1="372.30" x2="342.00" y2="394.60" stroke="#111" stroke-width="1.6"/>
<line x1="342.00" y1="400.10" x2="342.00" y2="422.30" stroke="#111" stroke-width="1.6"/>
<text x="346.00" y="386.30" font-size="8.0" textLength="29.00" lengthAdjust="spacingAndGlyphs" >3 weeks</text>
<text x="346.00" y="414.30" font-size="8.0" textLength="29.00" lengthAdjust="spacingAndGlyphs" >4 weeks</text>
<rect x="0" y="0" width="1.4" height="492" fill="#000"/>
<rect x="0" y="0" width="520" height="1.2" fill="#000"/>
<rect x="518.6" y="0" width="1.4" height="492" fill="#000"/>
<rect x="0" y="490.3" width="520" height="1.7" fill="#000"/>
</svg></body></html>
